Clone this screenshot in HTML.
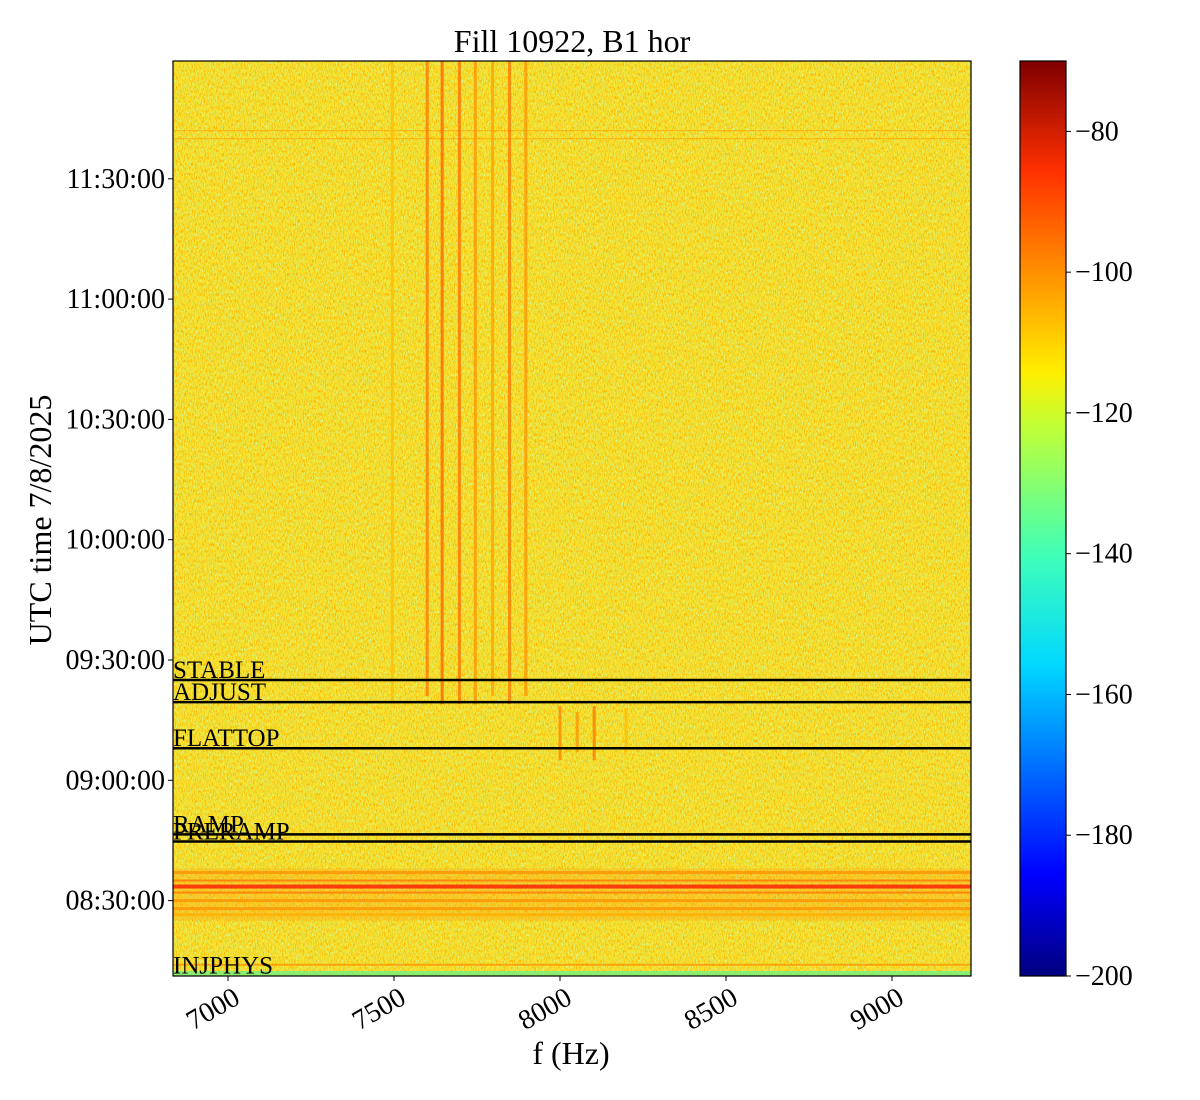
<!DOCTYPE html>
<html><head><meta charset="utf-8"><style>
html,body{margin:0;padding:0;background:#fff;}
svg{display:block;font-family:"Liberation Serif",serif;}
</style></head><body>
<svg id="chart" width="1200" height="1100" viewBox="0 0 1200 1100" xmlns="http://www.w3.org/2000/svg">
<defs>
<filter id="noise" x="0" y="0" width="100%" height="100%">
<feTurbulence type="fractalNoise" baseFrequency="0.9 0.3" numOctaves="2" seed="3" result="t"/>
<feColorMatrix in="t" type="matrix" values="0 0 0 0 1  0 0 0 0 0.45  0 0 0 0 0  0 0 0 3.2 -1.45" result="o"/>
<feComposite in="o" in2="SourceGraphic" operator="in"/>
</filter>
<filter id="noise2" x="0" y="0" width="100%" height="100%">
<feTurbulence type="fractalNoise" baseFrequency="0.85 0.35" numOctaves="2" seed="11" result="t"/>
<feColorMatrix in="t" type="matrix" values="0 0 0 0 0.6  0 0 0 0 1  0 0 0 0 0.45  0 0 0 3.2 -1.75" result="o"/>
<feComposite in="o" in2="SourceGraphic" operator="in"/>
</filter>
<linearGradient id="jet" x1="0" y1="1" x2="0" y2="0">
<stop offset="0" stop-color="#00007f"/>
<stop offset="0.11" stop-color="#0000ff"/>
<stop offset="0.34" stop-color="#00d8ff"/>
<stop offset="0.46" stop-color="#40ffb8"/>
<stop offset="0.6" stop-color="#c0ff36"/>
<stop offset="0.66" stop-color="#ffee00"/>
<stop offset="0.88" stop-color="#ff3000"/>
<stop offset="1" stop-color="#7f0000"/>
</linearGradient>
<clipPath id="plotclip"><rect x="173" y="61" width="798" height="915"/></clipPath>
</defs>
<g id="plot" clip-path="url(#plotclip)"></g>
<g id="axes"></g>
</svg>
<script>
// ---- data ----
const lineFreqs = [7495, 7600, 7645, 7697, 7745, 7797, 7848, 7897];
const lineLevels = [-110, -100, -97, -99, -104, -106, -100, -104];
const lineStart = ["11:59:30","11:59:30","11:59:30","11:59:30","11:59:30","11:59:30","11:59:30","11:59:30"];
const lineEnd = ["09:19:00","09:21:00","09:19:00","09:19:00","09:19:00","09:21:00","09:19:00","09:21:00"];
const line2Freqs = [8000, 8052, 8103, 8199];
const line2Levels = [-102, -104, -100, -110];
const line2Start = ["09:18:30","09:17:00","09:18:30","09:18:00"];
const line2End = ["09:05:00","09:07:00","09:05:00","09:07:00"];
const bandTimes = ["08:37:00","08:35:00","08:33:30","08:32:00","08:30:00","08:28:00","08:26:30","08:14:00","11:42:00","11:40:00"];
const bandLevels = [-104, -100, -86, -100, -104, -104, -108, -104, -106, -106];
const bandHeights = [3, 2, 4, 2, 3, 3, 3, 2, 1, 1];
const eventNames = ["STABLE","ADJUST","FLATTOP","RAMP","PRERAMP","INJPHYS"];
const eventTimes = ["09:25:00","09:19:30","09:08:00","08:46:30","08:44:45","08:11:20"];
const xTicks = [7000, 7500, 8000, 8500, 9000];
const yTicks = ["11:30:00","11:00:00","10:30:00","10:00:00","09:30:00","09:00:00","08:30:00"];
const cbTicks = [-80, -100, -120, -140, -160, -180, -200];

// ---- scales ----
const X0=173,X1=971,Y0=61,Y1=976;
const fx = f => 228 + (f-7000)*0.332;
const tsec = s => {const p=s.split(':').map(Number);return p[0]*3600+p[1]*60+p[2];};
const T930 = tsec("09:30:00");
const fy = s => 660 - (tsec(s)-T930)/60*4.01;
const cbY = v => 976 - (v+200)*(915/130);
function jet(v){
  let t=(v+200)/130; t=Math.max(0,Math.min(1,t));
  const r=Math.max(0,Math.min(1,1.5-Math.abs(4*t-3))),g=Math.max(0,Math.min(1,1.5-Math.abs(4*t-2))),b=Math.max(0,Math.min(1,1.5-Math.abs(4*t-1)));
  return `rgb(${Math.round(r*255)},${Math.round(g*255)},${Math.round(b*255)})`;
}
const NS="http://www.w3.org/2000/svg";
function mk(tag,attrs,parent,text){const e=document.createElementNS(NS,tag);for(const k in attrs)e.setAttribute(k,attrs[k]);if(text!==undefined)e.textContent=text;parent.appendChild(e);return e;}
const plot=document.getElementById('plot'), axes=document.getElementById('axes');

let bg=mk('rect',{x:X0,y:Y0,width:X1-X0,height:Y1-Y0,fill:'#f2e430'},plot);


let nz=mk('rect',{x:X0,y:Y0,width:X1-X0,height:Y1-Y0,fill:'#fff',filter:'url(#noise)'},plot);


let nz2=mk('rect',{x:X0,y:Y0,width:X1-X0,height:Y1-Y0,fill:'#fff',filter:'url(#noise2)'},plot);


let glow=mk('rect',{x:X0,y:fy("08:38:00"),width:X1-X0,height:fy("08:25:00")-fy("08:38:00"),fill:'#ff9a10',opacity:0.3},plot);


let bottom=mk('rect',{x:X0,y:Y1-5,width:X1-X0,height:5,fill:'#70f080',opacity:0.8},plot);



bandTimes.forEach((t,i)=>{
  const r=mk('rect',{x:X0,y:fy(t)-bandHeights[i]/2,width:X1-X0,height:bandHeights[i],fill:jet(bandLevels[i]),opacity:0.7},plot);
  
  
});
lineFreqs.forEach((f,i)=>{
  const y0=fy(lineStart[i]), y1=fy(lineEnd[i]);
  const r=mk('rect',{x:fx(f)-1.5,y:y0,width:3,height:y1-y0,fill:jet(lineLevels[i]),opacity:0.7},plot);
  
  
});
line2Freqs.forEach((f,i)=>{
  const y0=fy(line2Start[i]), y1=fy(line2End[i]);
  const r=mk('rect',{x:fx(f)-1.5,y:y0,width:3,height:y1-y0,fill:jet(line2Levels[i]),opacity:0.7},plot);
  
  
});
eventNames.forEach((n,i)=>{
  const y=fy(eventTimes[i]);
  if(n!=="INJPHYS"){
    const l=mk('line',{x1:X0,x2:X1,y1:y,y2:y,stroke:'#000','stroke-width':2.5},plot);
    
    
  }
  const tx=mk('text',{x:X0,y:y-2,'font-size':25,fill:'#000'},axes,n);
  
  
});

let fr=mk('rect',{x:X0,y:Y0,width:X1-X0,height:Y1-Y0,fill:'none',stroke:'#000','stroke-width':1.2},axes);


xTicks.forEach(v=>{
  const x=fx(v);
  const t=mk('line',{x1:x,x2:x,y1:Y1,y2:Y1+5,stroke:'#000','stroke-width':1},axes);
  
  
  const l=mk('text',{x:x+4,y:Y1+10,'font-size':28,'text-anchor':'end','dominant-baseline':'hanging',transform:`rotate(-30 ${x+4} ${Y1+10})`},axes,String(v));
  
  
});
yTicks.forEach(v=>{
  const y=fy(v);
  const t=mk('line',{x1:X0-5,x2:X0,y1:y,y2:y,stroke:'#000','stroke-width':1},axes);
  
  
  const l=mk('text',{x:X0-8,y:y+9,'font-size':28,'text-anchor':'end'},axes,v);
  
  
});
let cb=mk('rect',{x:1020,y:61,width:46,height:915,fill:'url(#jet)',stroke:'#000','stroke-width':1.2},axes);


cbTicks.forEach(v=>{
  const y=cbY(v);
  const t=mk('line',{x1:1066,x2:1071,y1:y,y2:y,stroke:'#000','stroke-width':1},axes);
  
  
  const l=mk('text',{x:1075,y:y+9,'font-size':28},axes,'\u2212'+Math.abs(v));
  
  
});
let ti=mk('text',{x:572,y:52,'font-size':32,'text-anchor':'middle'},axes,'Fill 10922, B1 hor');


let xl=mk('text',{x:571,y:1064,'font-size':32,'text-anchor':'middle'},axes,'f (Hz)');


let yl=mk('text',{x:0,y:0,'font-size':32,'text-anchor':'middle',transform:'translate(51 520) rotate(-90)'},axes,'UTC time 7/8/2025');


</script>
</body></html>
